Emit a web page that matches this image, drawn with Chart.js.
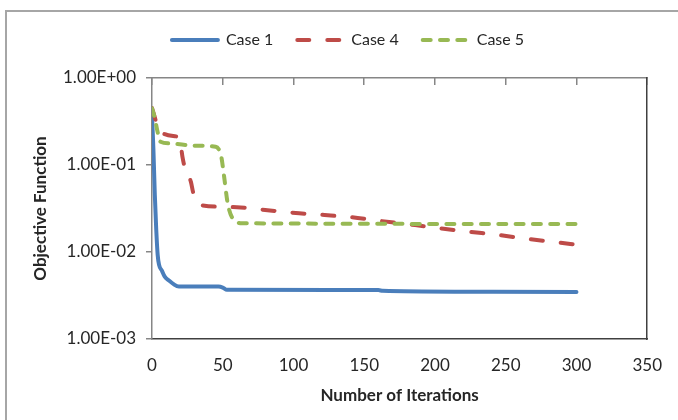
<!DOCTYPE html>
<html>
<head>
<meta charset="utf-8">
<title>Objective Function</title>
<script src="https://cdn.jsdelivr.net/npm/chart.js@4.4.1/dist/chart.umd.min.js"></script>
<style>
  html, body { margin: 0; padding: 0; background: #fff; }
  #chart { display: block; }
</style>
</head>
<body>
<canvas id="chart" width="678" height="420"></canvas>
<script>
// Values (iteration, objective function)
const case1Iter = [0, 1, 2, 3, 4, 5, 7, 9, 12, 15, 19, 47, 50, 53, 160, 163, 220, 300];
const case1Obj = [0.38, 0.15, 0.045, 0.018, 0.0093, 0.0071, 0.0061, 0.0052, 0.0047, 0.0043, 0.0040, 0.0040, 0.0039, 0.00367, 0.00365, 0.00358, 0.00350, 0.00348];

const case4Iter = [0, 1, 3, 5, 9, 18, 19.5, 21.5, 23, 27.5, 29, 32.5, 34, 60, 80, 104, 122, 141, 162, 186, 204, 224, 245, 266, 287, 300];
const case4Obj = [0.45, 0.40, 0.31, 0.25, 0.226, 0.212, 0.205, 0.125, 0.096, 0.064, 0.049, 0.036, 0.0347, 0.0327, 0.0304, 0.0279, 0.0266, 0.0251, 0.0227, 0.0204, 0.0187, 0.0171, 0.0157, 0.0141, 0.0129, 0.0121];

const case5Iter = [0, 2, 4, 6, 13, 30, 45, 47.5, 49, 51, 53.5, 57, 64, 300];
const case5Obj = [0.45, 0.345, 0.238, 0.185, 0.177, 0.167, 0.162, 0.148, 0.124, 0.073, 0.0363, 0.0244, 0.0214, 0.021];

const seriesNames = ['Case 1', 'Case 4', 'Case 5'];
const xMin = 0, xMax = 350, xStep = 50;
const yTickValues = [0.001, 0.01, 0.1, 1];
const yTickLabels = ['1.00E-03', '1.00E-02', '1.00E-01', '1.00E+00'];

const textColor = '#262626';
const axisGray = '#868686';
const borderDark = '#404040';

function toPoints(xs, ys) {
    return xs.map((x, i) => ({ x: x, y: ys[i] }));
}

// White background and the light outer frame of the chart
const chartFrame = {
    id: 'chartFrame',
    beforeDraw(chart) {
        const ctx = chart.ctx;
        ctx.save();
        ctx.fillStyle = '#fff';
        ctx.fillRect(0, 0, chart.width, chart.height);
        ctx.strokeStyle = '#a6a6a6';
        ctx.lineWidth = 2;
        ctx.beginPath();
        ctx.moveTo(6, chart.height + 5);
        ctx.lineTo(6, 11);
        ctx.lineTo(chart.width + 5, 11);
        ctx.stroke();
        ctx.restore();
    }
};

// Legend sits off-centre in the original, nudge it right
const legendShift = {
    id: 'legendShift',
    afterLayout(chart) {
        chart.legend.left += 22;
        chart.legend.right += 22;
    }
};

const chart = new Chart(document.getElementById('chart'), {
    type: 'line',
    data: {
        datasets: [
            {
                label: seriesNames[0],
                data: toPoints(case1Iter, case1Obj),
                borderColor: '#4A7EBB',
                backgroundColor: '#4A7EBB',
                borderWidth: 4,
                borderCapStyle: 'round',
                order: 3
            },
            {
                label: seriesNames[1],
                data: toPoints(case4Iter, case4Obj),
                borderColor: '#BE4B48',
                backgroundColor: '#BE4B48',
                borderWidth: 4,
                borderDash: [12, 18],
                borderCapStyle: 'round',
                order: 2
            },
            {
                label: seriesNames[2],
                data: toPoints(case5Iter, case5Obj),
                borderColor: '#98B954',
                backgroundColor: '#98B954',
                borderWidth: 4,
                borderDash: [8, 9.3],
                borderCapStyle: 'round',
                order: 1
            }
        ]
    },
    options: {
        responsive: false,
        animation: false,
        layout: { padding: { top: 8, left: 0, right: 26, bottom: 0 } },
        elements: {
            point: { radius: 0, hoverRadius: 0 },
            line: { cubicInterpolationMode: 'monotone', fill: false }
        },
        plugins: {
            tooltip: { enabled: false },
            legend: {
                position: 'top',
                align: 'center',
                labels: {
                    usePointStyle: true,
                    pointStyle: 'line',
                    pointStyleWidth: 46,
                    padding: 24,
                    color: textColor,
                    font: { family: 'Lato', size: 16 },
                    // point style labels lose the dash pattern, take it from the dataset
                    generateLabels(chart) {
                        const items = Chart.defaults.plugins.legend.labels.generateLabels(chart);
                        items.forEach(item => {
                            const ds = chart.data.datasets[item.datasetIndex];
                            item.lineDash = ds.borderDash || [];
                            item.lineCap = 'round';
                            item.lineWidth = ds.borderWidth;
                            item.strokeStyle = ds.borderColor;
                        });
                        return items;
                    },
                    sort: (a, b) => a.datasetIndex - b.datasetIndex
                }
            }
        },
        scales: {
            x: {
                type: 'linear',
                position: 'bottom',
                min: xMin,
                max: xMax,
                ticks: { stepSize: xStep, padding: 16, color: textColor, font: { family: 'Lato', size: 17 } },
                grid: { display: false, drawTicks: false, tickLength: 0 },
                border: { display: true, color: borderDark, width: 1.5 },
                title: {
                    display: true,
                    text: 'Number of Iterations',
                    color: textColor,
                    font: { family: 'Lato', size: 17, weight: 'bold' },
                    padding: { top: 0, bottom: 14 }
                },
                afterFit(scale) { scale.height = 81; }
            },
            xTop: {
                type: 'linear',
                position: 'top',
                min: xMin,
                max: xMax,
                ticks: { display: false, stepSize: xStep },
                grid: { drawOnChartArea: false, drawTicks: true, tickLength: -7, color: axisGray, lineWidth: 1.5 },
                border: { display: true, color: axisGray, width: 1.5 },
                afterFit(scale) { scale.height = 20; }
            },
            y: {
                type: 'logarithmic',
                position: 'left',
                min: yTickValues[0],
                max: yTickValues[yTickValues.length - 1],
                afterBuildTicks(scale) {
                    scale.ticks = yTickValues.map(v => ({ value: v }));
                },
                ticks: {
                    padding: 10,
                    color: textColor,
                    font: { family: 'Lato', size: 17 },
                    callback: (value, index) => yTickLabels[index]
                },
                grid: { drawOnChartArea: false, drawTicks: true, tickLength: 6, color: axisGray, lineWidth: 1.5 },
                border: { display: true, color: axisGray, width: 1.5 },
                title: {
                    display: true,
                    text: 'Objective Function',
                    color: textColor,
                    font: { family: 'Lato', size: 17, weight: 'bold' },
                    padding: { top: 30, bottom: 0 }
                },
                afterFit(scale) { scale.width = 152; }
            },
            yRight: {
                type: 'logarithmic',
                position: 'right',
                min: yTickValues[0],
                max: yTickValues[yTickValues.length - 1],
                ticks: { display: false },
                grid: { display: false, drawTicks: false },
                border: { display: true, color: borderDark, width: 1.5 },
                afterFit(scale) { scale.width = 0; }
            }
        }
    },
    plugins: [chartFrame, legendShift]
});
</script>
</body>
</html>
